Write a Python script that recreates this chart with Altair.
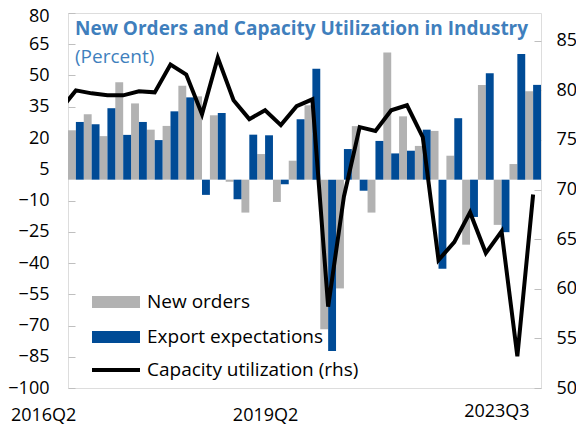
import json
import altair as alt
import pandas as pd

quarters = ["2016Q2", "2016Q3", "2016Q4", "2017Q1", "2017Q2", "2017Q3", "2017Q4",
            "2018Q1", "2018Q2", "2018Q3", "2018Q4", "2019Q1", "2019Q2", "2019Q3",
            "2019Q4", "2020Q1", "2020Q2", "2020Q3", "2020Q4", "2021Q1", "2021Q2",
            "2021Q3", "2021Q4", "2022Q1", "2022Q2", "2022Q3", "2022Q4", "2023Q1",
            "2023Q2", "2023Q3"]
new_orders = [23.7, 31.4, 20.9, 46.8, 36.6, 24.0, 25.8, 45.1, 40.0, 30.9,
              -1.0, -15.8, 12.3, -10.7, 9.1, 35.7, -71.8, -52.2, 25.7, -15.8,
              61.0, 30.4, 16.2, 23.4, 11.5, -31.2, 45.5, -21.7, 7.5, 42.4]
export_expectations = [27.7, 26.6, 34.3, 21.5, 27.7, 19.0, 32.8, 39.5, -7.3, 32.0,
                       -9.4, 21.6, 21.3, -2.2, 29.0, 53.2, -82.2, 14.7, -5.3, 18.6,
                       12.6, 13.9, 24.0, -42.7, 29.5, -17.9, 51.1, -25.2, 60.3, 45.5]
# capacity utilization (rhs); first value is 2016Q1, only partly visible at the left edge
cap_quarters = ["2016Q1"] + quarters
capacity = [78.0, 80.0, 79.7, 79.5, 79.5, 79.9, 79.8, 82.6, 81.6, 77.6, 83.3,
            79.0, 77.1, 78.0, 76.5, 78.4, 79.1, 58.2, 69.3, 76.3, 75.9,
            78.0, 78.5, 75.3, 62.9, 64.7, 67.7, 63.6, 65.8, 53.2, 69.5]
series_names = ["New orders", "Export expectations"]
line_name = "Capacity utilization (rhs)"
x_label_quarters = ["2016Q2", "2019Q2", "2023Q3"]
left_ticks = list(range(-100, 81, 15))
right_ticks = list(range(50, 86, 5))

n = len(quarters)
bars_df = pd.DataFrame({
    "quarter": quarters * 2,
    "idx": list(range(n)) * 2,
    "series": [series_names[0]] * n + [series_names[1]] * n,
    "value": new_orders + export_expectations,
})
line_df = pd.DataFrame({
    "quarter": cap_quarters,
    "idx": list(range(-1, n)),
    "value": capacity,
    "series": [line_name] * len(capacity),
})

FONT = "Open Sans"
GREY = "#B2B2B2"
BLUE = "#004B96"
TITLE_C = "#3F7FBD"
FRAME = "#BFBFBF"

xscale = alt.Scale(domain=[-0.5, n - 0.5], nice=False, zero=False)
tick_idx = [quarters.index(q) for q in x_label_quarters]
mid_idx = tick_idx[1]
last_idx = tick_idx[2]


def make_x_axis():
    return alt.Axis(
        values=tick_idx,
        labelExpr=json.dumps(quarters) + "[datum.value]",
        title=None, ticks=False, domain=False, grid=False,
        labelAlign={"condition": {"test": f"datum.value == {mid_idx}", "value": "center"},
                    "value": "right"},
        labelOffset={"condition": {"test": f"datum.value == {last_idx}", "value": -4},
                     "value": 0},
        labelBaseline={"condition": {"test": f"datum.value == {last_idx}", "value": "line-top"},
                       "value": "top"},
        labelLineHeight=10,
        labelPadding=18, labelFontSize=18, labelFont=FONT, labelColor="black",
    )


bars = alt.Chart(bars_df).transform_calculate(
    x0="datum.idx - 0.5 + (datum.series == 'Export expectations' ? 0.5 : 0)",
    x1="datum.idx + (datum.series == 'Export expectations' ? 0.5 : 0)",
).mark_bar().encode(
    x=alt.X("x0:Q", scale=xscale, axis=make_x_axis()),
    x2="x1:Q",
    y=alt.Y("value:Q", scale=alt.Scale(domain=[-100, 80], nice=False, zero=False),
            axis=alt.Axis(values=left_ticks, title=None, grid=False, domain=False,
                          offset=-7, tickSize=7, tickColor=FRAME, tickWidth=1,
                          labelPadding=19, labelFontSize=18, labelFont=FONT,
                          labelColor="black",
                          labelOffset={"condition": {"test": "datum.value == 80", "value": 3},
                                       "value": 0})),
    y2=alt.datum(0),
    fill=alt.Fill("series:N",
                  scale=alt.Scale(domain=series_names, range=[GREY, BLUE]),
                  legend=alt.Legend(title=None, orient="none", legendX=36, legendY=277,
                                    symbolType="M-2,-0.5H2V0.5H-2Z", symbolSize=576,
                                    symbolStrokeWidth=0, labelFontSize=19, labelFont=FONT,
                                    labelColor="black", labelOffset=19, rowPadding=13,
                                    padding=0, labelLimit=400)),
)

line = alt.Chart(line_df).mark_line(strokeWidth=4, clip=True).encode(
    x=alt.X("idx:Q", scale=xscale, axis=make_x_axis()),
    y=alt.Y("value:Q", scale=alt.Scale(domain=[50, 87.8], nice=False, zero=False),
            axis=alt.Axis(orient="right", values=right_ticks, title=None, grid=False,
                          domain=False, offset=-7, tickSize=7, tickColor=FRAME,
                          tickWidth=1, labelPadding=15, labelFontSize=18,
                          labelFont=FONT, labelColor="black")),
    stroke=alt.Stroke("series:N",
                      scale=alt.Scale(domain=[line_name], range=["black"]),
                      legend=alt.Legend(title=None, orient="none", legendX=34, legendY=343,
                                        symbolType="M-2,0H2", symbolSize=576,
                                        symbolStrokeWidth=4, labelFontSize=19,
                                        labelFont=FONT, labelColor="black",
                                        labelOffset=17, padding=0, labelLimit=400)),
)

chart = alt.layer(bars, line).resolve_scale(y="independent").properties(
    width=473, height=375,
    autosize=alt.AutoSizeParams(type="none"),
    padding={"left": 60, "top": 5, "right": 35, "bottom": 38},
    title=alt.TitleParams(
        "New Orders and Capacity Utilization in Industry",
        subtitle="(Percent)",
        anchor="start", frame="group", orient="top", offset=-60, dx=7,
        font=FONT, fontSize=19, fontWeight="bold", color=TITLE_C,
        subtitleFont=FONT, subtitleFontSize=19, subtitleColor=TITLE_C,
        subtitlePadding=9,
    ),
).configure_view(stroke=FRAME, strokeWidth=1).configure(background="white")

chart.save("out.html", embed_options={"renderer": "svg", "actions": False})
